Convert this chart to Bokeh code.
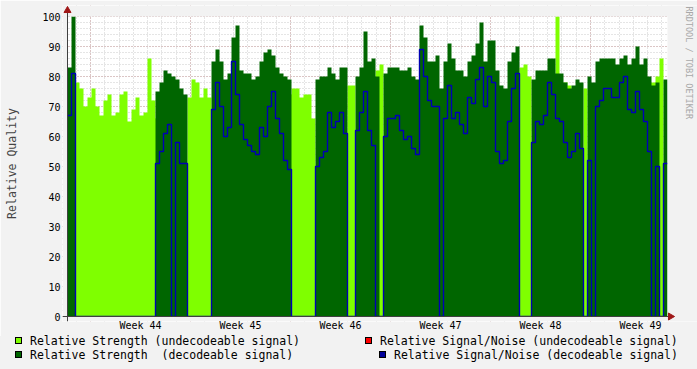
import math
import numpy as np
from bokeh.plotting import figure
from bokeh.layouts import column
from bokeh.models import Range1d, FixedTicker, SingleIntervalTicker, Label, Div
from bokeh.embed import file_html
from bokeh.resources import INLINE

MONO = "DejaVu Sans Mono"

# ---- data: 6.72 h samples over six weeks ----
step_days = 0.28
first_week_start = 1.61          # day offset of the Monday starting week 44
week_numbers = [44, 45, 46, 47, 48, 49]

strength_undecodeable = [
    0, 78, 78, 76, 70, 73, 76, 70, 67, 72, 74, 67, 68, 74, 75, 65, 69, 73, 67, 68,
    86, 72, 66, 64, 0, 0, 68, 0, 0, 0, 73, 79, 78, 73, 76, 73, 0, 0, 0, 0,
    0, 0, 0, 0, 0, 0, 0, 0, 0, 0, 0, 0, 0, 0, 0, 74, 76, 76, 73, 74,
    74, 66, 0, 0, 0, 0, 0, 0, 0, 0, 77, 77, 0, 0, 0, 0, 0, 82, 84, 0,
    0, 0, 0, 0, 0, 0, 0, 0, 0, 0, 0, 0, 0, 74, 0, 0, 0, 0, 0, 0,
    0, 0, 0, 0, 0, 0, 0, 0, 0, 0, 0, 0, 0, 83, 84, 80, 0, 0, 0, 0,
    0, 0, 100, 0, 78, 77, 75, 0, 0, 76, 0, 0, 0, 0, 0, 0, 0, 0, 0, 0,
    0, 0, 0, 0, 0, 78, 78, 80, 86, 0,
]
strength_decodeable = [
    83, 100, 0, 0, 0, 0, 0, 0, 0, 0, 0, 0, 0, 0, 0, 0, 0, 0, 0, 0,
    0, 0, 75, 78, 82, 81, 80, 79, 76, 74, 0, 0, 0, 0, 0, 0, 85, 89, 85, 79,
    81, 93, 97, 82, 81, 81, 79, 80, 85, 88, 89, 87, 83, 81, 80, 79, 0, 0, 0, 0,
    0, 0, 79, 80, 80, 83, 81, 79, 83, 83, 0, 0, 80, 83, 95, 85, 86, 80, 0, 81,
    83, 83, 83, 82, 82, 83, 80, 79, 97, 93, 85, 85, 87, 76, 85, 91, 86, 82, 82, 80,
    85, 87, 91, 98, 85, 92, 92, 82, 77, 76, 85, 88, 90, 0, 0, 0, 79, 82, 82, 82,
    86, 86, 81, 81, 78, 76, 77, 79, 78, 0, 80, 78, 85, 86, 86, 86, 86, 84, 86, 87,
    84, 86, 90, 84, 86, 80, 77, 78, 0, 79,
]
snr_decodeable = [
    67, 81, 0, 0, 0, 0, 0, 0, 0, 0, 0, 0, 0, 0, 0, 0, 0, 0, 0, 0,
    0, 0, 51, 55, 61, 64, 0, 58, 51, 51, 0, 0, 0, 0, 0, 0, 69, 78, 70, 60,
    63, 85, 74, 64, 59, 57, 55, 54, 63, 60, 70, 75, 66, 61, 52, 49, 0, 0, 0, 0,
    0, 0, 50, 53, 55, 68, 63, 65, 68, 61, 0, 0, 62, 68, 75, 62, 57, 0, 0, 60,
    66, 66, 67, 62, 59, 60, 56, 54, 89, 80, 72, 70, 70, 0, 66, 77, 66, 68, 64, 61,
    73, 71, 79, 83, 70, 80, 78, 55, 51, 52, 65, 76, 81, 0, 0, 0, 58, 65, 64, 67,
    78, 74, 66, 65, 58, 53, 55, 61, 56, 0, 52, 0, 70, 72, 76, 76, 73, 73, 78, 80,
    69, 68, 75, 69, 65, 55, 0, 50, 0, 51,
]

legend_texts = ["Relative Strength (undecodeable signal)", "Relative Strength  (decodeable signal)",
                "Relative Signal/Noise (undecodeable signal)", "Relative Signal/Noise (decodeable signal)"]
legend_colors = ["#7FFF00", "#006600", "#FF0000", "#000099"]
# legend layout (pixels inside the legend strip)
legend_box_x = [15, 15, 365, 379]
legend_row_y = [5, 19, 5, 19]

n = len(strength_decodeable)
t = step_days * np.arange(n + 1)
t_end = float(t[-1])


def stepify(vals):
    xs = np.repeat(t, 2)[1:-1]
    ys = np.repeat(np.asarray(vals, dtype=float), 2)
    return xs, ys


BG = "#F2F2F2"
PX_PER_DAY = 100 / 7.0
FRAME_L, FRAME_B, FRAME_T = 62, 321, 5
MAIN_H = 336
W = 697
x0 = -5 / PX_PER_DAY
x1 = x0 + (W - FRAME_L) / PX_PER_DAY
y0, y1 = -5.0 / 3.0, (FRAME_B - FRAME_T) / 3.0 - 5.0 / 3.0

p = figure(width=W, height=MAIN_H, output_backend="svg", toolbar_location=None,
           x_range=Range1d(x0, x1), y_range=Range1d(y0, y1),
           min_border_left=FRAME_L, min_border_right=0, min_border_top=FRAME_T,
           min_border_bottom=MAIN_H - FRAME_B,
           background_fill_color="white", border_fill_color=BG, outline_line_color=None)

# grids
week_bounds = [round(first_week_start + 7 * k, 3) for k in range(6)]
day_ticks = [round(first_week_start + d, 3) for d in range(-1, 41)]
p.xgrid.ticker = FixedTicker(ticks=week_bounds, minor_ticks=day_ticks)
yt = SingleIntervalTicker(interval=10, num_minor_ticks=5)
p.yaxis.ticker = yt
p.ygrid.ticker = yt
for g in (p.xgrid, p.ygrid):
    g.grid_line_color = "#B03030"
    g.grid_line_alpha = 0.35
    g.grid_line_dash = "1 2"
    g.minor_grid_line_color = "#8C8C8C"
    g.minor_grid_line_alpha = 0.45
    g.minor_grid_line_dash = "1 2"

# data
xs, ys = stepify(strength_undecodeable)
p.varea(x=xs, y1=0, y2=ys, fill_color="#7FFF00")
xs, ys = stepify(strength_decodeable)
p.varea(x=xs, y1=0, y2=ys, fill_color="#006600")
xs, ys = stepify(snr_decodeable)
p.line(x=xs, y=ys, line_color="#0000B4", line_width=1.4)

# cover the padding around the canvas with background colour
p.quad(left=[x0, x0, x0, t_end], right=[0, x1, x1, x1],
       bottom=[y0, y0, 100, y0], top=[y1, 0, y1, y1],
       fill_color=BG, line_color=None)

# axis lines + arrows
x_arrow = t_end + 0.21
y_arrow = 102.0
p.segment(x0=[x0, 0], y0=[0, y0], x1=[x_arrow, 0], y1=[0, y_arrow], line_color="#404040", line_width=1)
p.scatter(x=[0], y=[y_arrow], marker="triangle", size=7, color="#A01818")
p.scatter(x=[x_arrow], y=[0], marker="triangle", angle=-math.pi / 2, size=7, color="#A01818")

# axes
week_label_pos = [round(first_week_start + 3.5 + 7 * k, 3) for k in range(6)]
p.xaxis.ticker = FixedTicker(ticks=week_label_pos)
p.xaxis.major_label_overrides = {pos: f"Week {w}" for pos, w in zip(week_label_pos, week_numbers)}
for ax in (p.xaxis, p.yaxis):
    ax.axis_line_color = None
    ax.major_tick_line_color = None
    ax.minor_tick_line_color = None
    ax.major_tick_out = 0
    ax.major_tick_in = 0
    ax.minor_tick_out = 0
    ax.minor_tick_in = 0
    ax.major_label_text_font = MONO
    ax.major_label_text_font_size = "10px"
    ax.major_label_text_color = "black"
p.xaxis.major_label_standoff = -2
p.yaxis.major_label_standoff = 2
p.yaxis.axis_label = "Relative Quality"
p.yaxis.axis_label_text_font = MONO
p.yaxis.axis_label_text_font_size = "11.5px"
p.yaxis.axis_label_text_font_style = "normal"
p.yaxis.axis_label_standoff = 20

# watermark (frame-relative screen units)
p.add_layout(Label(x=688 - FRAME_L, y=FRAME_B - FRAME_T - 1, x_units="screen", y_units="screen",
                   text="RRDTOOL / TOBI OETIKER", angle=-math.pi / 2, text_font=MONO,
                   text_font_size="8.5px", text_color="#A8A8A8", text_align="left", text_baseline="middle"))

# legend strip (HTML, built from the legend lists)
LEG_H = 369 - MAIN_H
parts = []
for txt, col, bx, by in zip(legend_texts, legend_colors, legend_box_x, legend_row_y):
    parts.append(
        f'<span style="position:absolute;left:{bx}px;top:{by - 4.5}px;width:7px;height:7px;'
        f'background:{col};border:1px solid #000;"></span>'
        f'<span style="position:absolute;left:{bx + 15}px;top:{by - 7}px;height:14px;line-height:14px;'
        f'white-space:pre;">{txt}</span>'
    )
html = (f'<div style="position:relative;width:{W}px;height:{LEG_H}px;background:{BG};'
        f'font-family:\'{MONO}\';font-size:11.5px;color:#000;margin:0;padding:0;">' + "".join(parts) + "</div>")
leg = Div(text=html, width=W, height=LEG_H, margin=0, styles={"background-color": BG})

layout = column(p, leg, spacing=0)
open("out.html", "w").write(file_html(layout, INLINE))
